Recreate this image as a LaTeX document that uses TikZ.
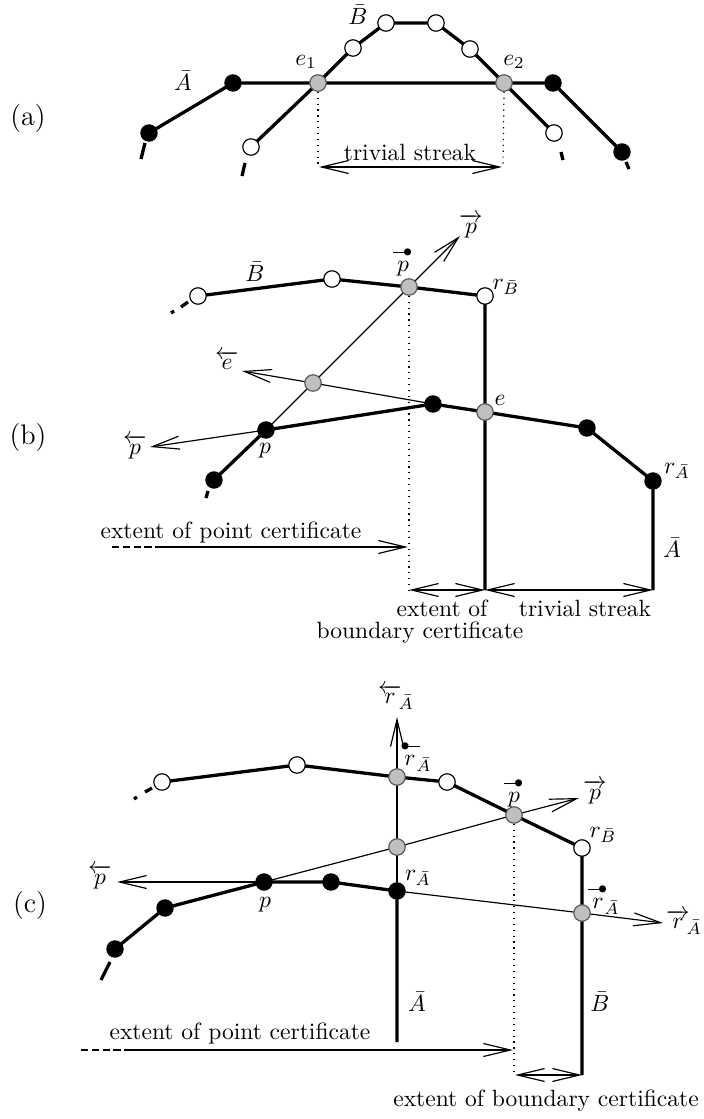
\documentclass[tikz,border=0pt]{standalone}
\usepackage{amsmath}
\usetikzlibrary{arrows.meta,backgrounds}
\newcommand{\dotR}[1]{\overset{\vcenter{\hrule width .5em height .5pt}\mkern-2mu\bullet}{#1}}
\newcommand{\dotL}[1]{\overset{\bullet\mkern-2mu\vcenter{\hrule width .5em height .5pt}}{#1}}
\begin{document}
\begin{tikzpicture}[x=0.425pt,y=-0.425pt,
  bk/.style={circle,draw=black,fill=black,line width=0.4pt,minimum size=7pt,inner sep=0pt},
  wh/.style={circle,draw=black,fill=white,line width=0.5pt,minimum size=7pt,inner sep=0pt},
  gr/.style={circle,draw=black!65,fill=black!25,line width=0.5pt,minimum size=7pt,inner sep=0pt},
  thk/.style={line width=1.4pt},
  thn/.style={line width=0.5pt},
  arr/.style={-{Straight Barb[length=11.5pt,width=5.5pt]}},
  darr/.style={{Straight Barb[length=11.5pt,width=5.5pt]}-{Straight Barb[length=11.5pt,width=5.5pt]}},
  guide/.style={dotted,line width=0.5pt},
  lbl/.style={inner sep=0pt},
  tag/.style={inner sep=0pt,font=\large},
]
\useasboundingbox (0,0) rectangle (703,1119);

% ================= (a) =================
\node[tag] (ta) at (28,118) {(a)};
\node[bk] (a1) at (149,133) {};
\node[bk] (a2) at (233,83) {};
\node[gr] (e1) at (318,83) {};
\node[gr] (e2) at (504,83) {};
\node[bk] (a3) at (553,83) {};
\node[bk] (a4) at (622,152) {};
\node[wh] (b1) at (251,147) {};
\node[wh] (b2) at (353,48) {};
\node[wh] (b3) at (386,23) {};
\node[wh] (b4) at (436,23) {};
\node[wh] (b5) at (470,49) {};
\node[wh] (b6) at (554,133) {};
\node[lbl] (lAa) at (183,81) {$\bar A$};
\node[lbl] (lBa) at (358,15) {$\bar B$};
\node[lbl] (le1) at (306,62) {$e_1$};
\node[lbl] (le2) at (514,62) {$e_2$};
\node[lbl] (tsa) at (410,152) {trivial streak};
\coordinate (a1s) at (145,143); \coordinate (a1t) at (141,159);
\coordinate (b1s) at (245,163); \coordinate (b1t) at (242,176);
\coordinate (b6s) at (561,152); \coordinate (b6t) at (563,160);
\coordinate (a4s) at (626,162); \coordinate (a4t) at (629,169);
\coordinate (e1d) at (318,167); \coordinate (e2d) at (503,167);
\coordinate (tsl) at (319,167); \coordinate (tsr) at (502,167);
\begin{scope}[on background layer]
\draw[thk] (a1.center) -- (a2.center) -- (e1.center) -- (e2.center) -- (a3.center) -- (a4.center);
\draw[thk] (b1.center) -- (e1.center) -- (b2.center) -- (b3.center) -- (b4.center) -- (b5.center) -- (e2.center) -- (b6.center);
\end{scope}
\draw[thk] (a1s) -- (a1t);
\draw[thk] (b1s) -- (b1t);
\draw[thk] (b6s) -- (b6t);
\draw[thk] (a4s) -- (a4t);
\draw[guide] (e1.south) -- (e1d);
\draw[guide] (e2.south) -- (e2d);
\draw[thn,darr] (tsl) -- (tsr);

% ================= (b) =================
\node[tag] (tb) at (28,437) {(b)};
\node[wh] (w1) at (198,296) {};
\node[wh] (w2) at (332,279) {};
\node[gr] (gp) at (409,287) {};
\node[wh] (rB) at (485,296) {};
\node[gr] (gq) at (313,383) {};
\node[bk] (k1) at (433,404) {};
\node[gr] (ee) at (485,412) {};
\node[bk] (k2) at (587,428) {};
\node[bk] (rA) at (653,481) {};
\node[bk] (pp) at (266,430) {};
\node[bk] (k0) at (214,480) {};
\node[lbl] (lBb) at (255,272) {$\bar B$};
\node[lbl] (lrB) at (506,287) {$r_{\bar B}$};
\node[lbl] (lpr) at (471,226) {$\overrightarrow{p}$};
\node[lbl] (lpd) at (403,261) {$\dotR{p}$};
\node[lbl] (lel) at (227,360) {$\overleftarrow{e}$};
\node[lbl] (le) at (500,400) {$e$};
\node[lbl] (lp) at (265,451) {$p$};
\node[lbl] (lpl) at (135,447) {$\overleftarrow{p}$};
\node[lbl] (lrA) at (677,471) {$r_{\bar A}$};
\node[lbl] (lAb) at (672,548) {$\bar A$};
\node[lbl] (pcb) at (231,532) {extent of point certificate};
\node[lbl] (eob) at (442,608) {extent of};
\node[lbl] (tsb) at (585,608) {trivial streak};
\node[lbl] (bcb) at (420,633) {boundary certificate};
\coordinate (w1s) at (188,302); \coordinate (w1t) at (181,307);
\coordinate (w1u) at (174,311); \coordinate (w1v) at (171,313);
\coordinate (k0s) at (208,491); \coordinate (k0t) at (206,498);
\coordinate (tpr) at (460,236);
\coordinate (tpl) at (150,447);
\coordinate (tel) at (242,371);
\coordinate (eeB) at (485,590);
\coordinate (rAB) at (653,590);
\coordinate (gpd) at (409,592);
\coordinate (dl) at (409,590);
\coordinate (pc0) at (112,547); \coordinate (pc1) at (160,547); \coordinate (pc2) at (408,547);
\begin{scope}[on background layer]
\draw[thk] (w1.center) -- (w2.center) -- (gp.center) -- (rB.center) -- (eeB);
\draw[thk] (k0.center) -- (pp.center) -- (k1.center) -- (ee.center) -- (k2.center) -- (rA.center) -- (rAB);
\draw[thn,arr] (pp.center) -- (gq.center) -- (gp.center) -- (tpr);
\draw[thn,arr] (pp.center) -- (tpl);
\draw[thn,arr] (k1.center) -- (gq.center) -- (tel);
\end{scope}
\draw[thk] (w1s) -- (w1t);
\draw[thk] (w1u) -- (w1v);
\draw[thk] (k0s) -- (k0t);
\draw[guide] (gp.south) -- (gpd);
\draw[thn,darr] (dl) -- (eeB);
\draw[thn,darr] (eeB) -- (rAB);
\draw[thn,dash pattern=on 3pt off 1.6pt] (pc0) -- (pc1);
\draw[thn,arr] (pc1) -- (pc2);

% ================= (c) =================
\node[tag] (tc) at (30,905) {(c)};
\node[wh] (cw1) at (162,782) {};
\node[wh] (cw2) at (297,765) {};
\node[gr] (cg1) at (397,777) {};
\node[wh] (cw3) at (447,782) {};
\node[gr] (cgp) at (514,815) {};
\node[wh] (crB) at (582,848) {};
\node[gr] (cg2) at (397,847) {};
\node[bk] (crA) at (397,891) {};
\node[bk] (ck1) at (331,882) {};
\node[bk] (cp) at (264,882) {};
\node[bk] (ck0) at (165,908) {};
\node[bk] (ckm) at (115,949) {};
\node[gr] (cg3) at (582,913) {};
\node[lbl] (lcrl) at (396,697) {$\overleftarrow{r}_{\!\bar A}$};
\node[lbl] (lcrd) at (416,756) {$\dotL{r}_{\!\bar A}$};
\node[lbl] (lcpd) at (514,792) {$\dotR{p}$};
\node[lbl] (lcpr) at (595,792) {$\overrightarrow{p}$};
\node[lbl] (lcrB) at (603,835) {$r_{\bar B}$};
\node[lbl] (lcrr) at (604,899) {$\dotR{r}_{\!\bar A}$};
\node[lbl] (lcrR) at (684,922) {$\overrightarrow{r}_{\!\bar A}$};
\node[lbl] (lcpl) at (100,877) {$\overleftarrow{p}$};
\node[lbl] (lcp) at (265,905) {$p$};
\node[lbl] (lcrA) at (418,878) {$r_{\bar A}$};
\node[lbl] (lcA) at (417,1002) {$\bar A$};
\node[lbl] (lcB) at (600,1002) {$\bar B$};
\node[lbl] (pcc) at (240,1033) {extent of point certificate};
\node[lbl] (bcc) at (546,1101) {extent of boundary certificate};
\coordinate (cw1s) at (152,788); \coordinate (cw1t) at (145,792);
\coordinate (cw1u) at (137,797); \coordinate (cw1v) at (134,799);
\coordinate (ckms) at (110,962); \coordinate (ckmt) at (101,980);
\coordinate (ctu) at (397,717);
\coordinate (ctpr) at (579,798);
\coordinate (ctpl) at (117,882);
\coordinate (ctrr) at (663,923);
\coordinate (crAB) at (397,1042);
\coordinate (crBB) at (582,1075);
\coordinate (cgpd) at (514,1075);
\coordinate (cdl) at (515,1075);
\coordinate (cpc0) at (81,1050); \coordinate (cpc1) at (127,1050); \coordinate (cpc2) at (513,1050);
\begin{scope}[on background layer]
\draw[thk] (cw1.center) -- (cw2.center) -- (cg1.center) -- (cw3.center) -- (cgp.center) -- (crB.center) -- (crBB);
\draw[thk] (ckm.center) -- (ck0.center) -- (cp.center) -- (ck1.center) -- (crA.center) -- (crAB);
\draw[thn,arr] (crA.center) -- (cg2.center) -- (cg1.center) -- (ctu);
\draw[thn,arr] (cp.center) -- (cg2.center) -- (cgp.center) -- (ctpr);
\draw[thn,arr] (cp.center) -- (ctpl);
\draw[thn,arr] (crA.center) -- (cg3.center) -- (ctrr);
\end{scope}
\draw[thk] (cw1s) -- (cw1t);
\draw[thk] (cw1u) -- (cw1v);
\draw[thk] (ckms) -- (ckmt);
\draw[guide] (cgp.south) -- (cgpd);
\draw[thn,darr] (cdl) -- (crBB);
\draw[thn,dash pattern=on 3pt off 1.6pt] (cpc0) -- (cpc1);
\draw[thn,arr] (cpc1) -- (cpc2);
\end{tikzpicture}
\end{document}
